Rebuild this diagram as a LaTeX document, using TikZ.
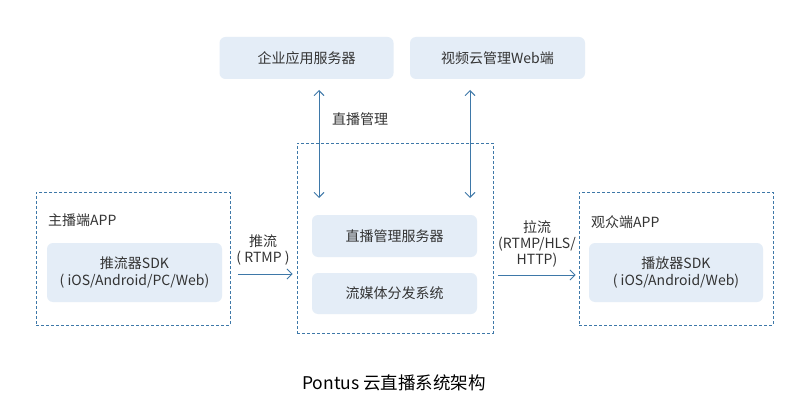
\documentclass[tikz,border=0pt]{standalone}
\usepackage{fontspec}
\setmainfont{Noto Sans CJK SC}
\usetikzlibrary{arrows.meta}
\definecolor{boxfill}{HTML}{E4EDF7}
\definecolor{lineblue}{HTML}{3E78A8}
\definecolor{txt}{HTML}{333333}
\tikzset{
  sbox/.style={draw=none,fill=boxfill,rounded corners=6pt,text=txt,font=\fontsize{14}{16.5}\selectfont,align=center,inner sep=0pt},
  dbox/.style={draw=lineblue,dashed,dash pattern=on 3pt off 2pt,line width=0.8pt},
  conn/.style={draw=lineblue,line width=0.9pt,-{Straight Barb[length=5pt,width=10pt]}},
  conn2/.style={draw=lineblue,line width=0.9pt,{Straight Barb[length=5pt,width=10pt]}-{Straight Barb[length=5pt,width=10pt]}},
  lbl/.style={text=txt,font=\fontsize{14}{16}\selectfont,align=center,inner sep=0pt},
}
\begin{document}
\begin{tikzpicture}[x=1pt,y=-1pt]
\useasboundingbox (0,0) rectangle (798,417);
\fill[white] (0,0) rectangle (798,417);
% top boxes
\node[sbox,minimum width=174pt,minimum height=42pt] (ent) at (306.5,58) {企业应用服务器};
\node[sbox,minimum width=175pt,minimum height=42pt] (web) at (497.5,58) {视频云管理Web端};
% central dashed
\node[dbox,minimum width=196pt,minimum height=190pt,inner sep=0pt] (center) at (395,238) {};
\node[sbox,minimum width=165pt,minimum height=42pt] (live) at (394.5,236) {直播管理服务器};
\node[sbox,minimum width=165pt,minimum height=41pt] (media) at (394.5,293.5) {流媒体分发系统};
% arrows top
\coordinate (a1t) at (319,90);
\coordinate (a1b) at (319,198);
\coordinate (a2t) at (470,90);
\coordinate (a2b) at (470,198);
\draw[conn2] (a1t) -- (a1b);
\draw[conn2] (a2t) -- (a2b);
\node[lbl,anchor=west] (mgmt) at (332,119) {直播管理};
% left box
\node[dbox,minimum width=194pt,minimum height=133pt,inner sep=0pt] (left) at (133,258.5) {};
\node[lbl,anchor=west] (anchorlbl) at (48,220) {主播端APP};
\node[sbox,minimum width=175pt,minimum height=59pt] (push) at (134.5,272.5) {推流器SDK\\( iOS/Android/PC/Web)};
% right box
\node[dbox,minimum width=194pt,minimum height=133pt,inner sep=0pt] (right) at (676,258.5) {};
\node[lbl,anchor=west] (viewer) at (591,222) {观众端APP};
\node[sbox,minimum width=174pt,minimum height=59pt] (play) at (676,272.5) {播放器SDK\\( iOS/Android/Web)};
% side arrows
\draw[conn] ([xshift=8pt]left.east |- 0,274) -- ([xshift=-4pt]center.west |- 0,274);
\node[lbl] (pushlbl) at (263,250) {推流\\( RTMP )};
\draw[conn] ([xshift=5pt]center.east |- 0,275) -- ([xshift=-3pt]right.west |- 0,275);
\node[lbl] (pulllbl) at (537,244) {拉流\\(RTMP/HLS/\\HTTP)};
% title
\node[text=black,font=\fontsize{17.5}{20}\selectfont,inner sep=0pt] (title) at (394,383) {Pontus 云直播系统架构};
\end{tikzpicture}
\end{document}
